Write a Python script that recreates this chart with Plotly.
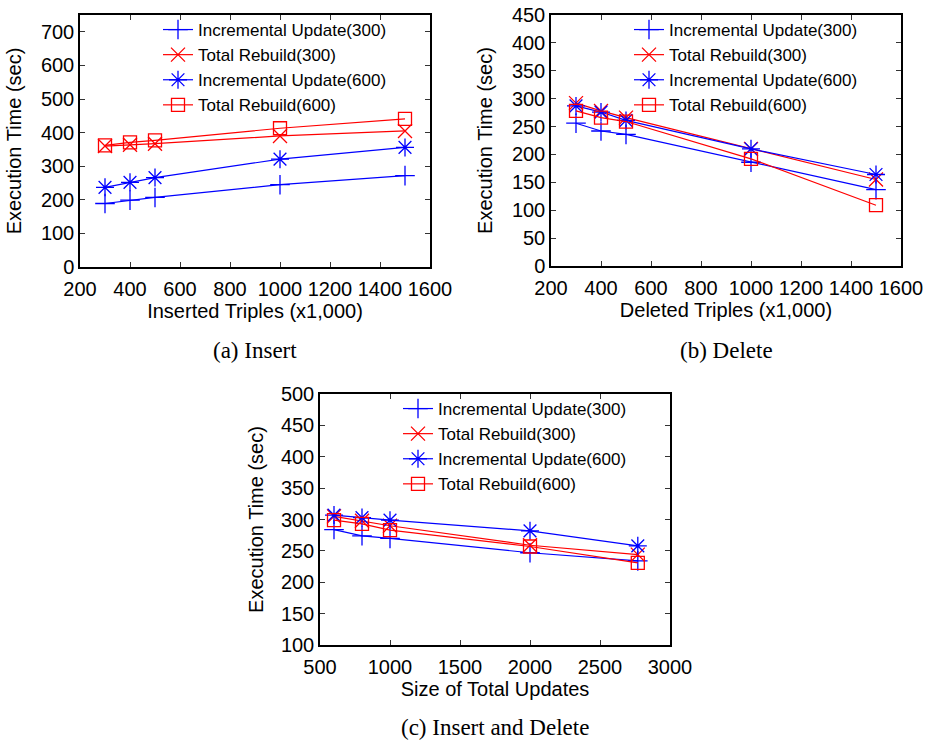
import plotly.graph_objects as go

# ---------------- data ----------------
series_names = ["Incremental Update(300)", "Total Rebuild(300)",
                "Incremental Update(600)", "Total Rebuild(600)"]

# (a) Insert
x_insert = [300, 400, 500, 1000, 1500]
ins_iu300 = [189, 199, 207, 245, 272]
ins_tr300 = [360, 364, 367, 390, 405]
ins_iu600 = [237, 252, 266, 321, 356]
ins_tr600 = [362, 371, 377, 413, 441]

# (b) Delete
x_delete = [300, 400, 500, 1000, 1500]
del_iu300 = [256, 242, 236, 186, 137]
del_tr300 = [292, 278, 266, 210, 155]
del_iu600 = [287, 276, 261, 210, 164]
del_tr600 = [278, 266, 259, 192, 109]

# (c) Insert and Delete
x_both = [600, 800, 1000, 2000, 2770]
both_iu300 = [284, 274, 270, 247, 234]
both_tr300 = [305, 298, 290, 259, 244]
both_iu600 = [307, 303, 299, 282, 258]
both_tr600 = [299, 293, 283, 257, 231]

captions = ["(a) Insert", "(b) Delete", "(c) Insert and Delete"]
x_titles = ["Inserted Triples (x1,000)", "Deleted Triples (x1,000)", "Size of Total Updates"]
y_title = "Execution Time (sec)"

# ---------------- styling ----------------
BLUE = "#0000ff"
RED = "#ff0000"
colors = [BLUE, RED, BLUE, RED]
symbols = ["cross-thin-open", "x-thin-open", "asterisk-open", "square-open"]
sizes = [14, 14, 15, 13]
SANS = "Liberation Sans, Arial, Helvetica, sans-serif"
SERIF = "Liberation Serif, Times New Roman, serif"

panels = [
    dict(x=x_insert, ys=[ins_iu300, ins_tr300, ins_iu600, ins_tr600],
         xd=[80/933, 430/933], yd=[(740-267)/740, (740-15)/740],
         xr=[200, 1600], xdt=200, yr=[0, 750], ydt=100, ystand=14),
    dict(x=x_delete, ys=[del_iu300, del_tr300, del_iu600, del_tr600],
         xd=[551/933, 901/933], yd=[(740-266)/740, (740-15)/740],
         xr=[200, 1600], xdt=200, yr=[0, 450], ydt=50, ystand=14),
    dict(x=x_both, ys=[both_iu300, both_tr300, both_iu600, both_tr600],
         xd=[320/933, 670/933], yd=[(740-645)/740, (740-394)/740],
         xr=[500, 3000], xdt=500, yr=[100, 500], ydt=50, ystand=12),
]

fig = go.Figure()
layout = dict(
    width=933, height=740,
    margin=dict(l=0, r=0, t=0, b=0),
    paper_bgcolor="white", plot_bgcolor="white",
    font=dict(family=SANS, size=20, color="black"),
    annotations=[],
)

cap_pos = [(255/933, 1-350/740), (726/933, 1-350/740), (495/933, 1-727/740)]

for i, p in enumerate(panels):
    n = "" if i == 0 else str(i + 1)
    leg = "legend" if i == 0 else "legend" + str(i + 1)
    for k in range(4):
        fig.add_trace(go.Scatter(
            x=p["x"], y=p["ys"][k], name=series_names[k],
            mode="lines+markers",
            line=dict(color=colors[k], width=1.2),
            marker=dict(symbol=symbols[k], size=sizes[k], color=colors[k],
                        line=dict(color=colors[k], width=1.3)),
            xaxis="x" + n, yaxis="y" + n, legend=leg,
        ))
    axis_common = dict(showline=True, mirror="allticks", linecolor="black", linewidth=1.5,
                       ticks="inside", ticklen=5, tickwidth=1, tickcolor="#333",
                       showgrid=False, zeroline=False, automargin=False,
                       tickfont=dict(family=SANS, size=20, color="black"))
    layout["xaxis" + n] = dict(axis_common, domain=p["xd"], range=p["xr"], dtick=p["xdt"],
                               tick0=p["xr"][0], anchor="y" + n, ticklabelstandoff=3,
                               title=dict(text=x_titles[i], standoff=5,
                                          font=dict(family=SANS, size=20)))
    layout["yaxis" + n] = dict(axis_common, domain=p["yd"], range=p["yr"], dtick=p["ydt"],
                               tick0=p["yr"][0], anchor="x" + n,
                               title=dict(text=y_title, standoff=p["ystand"],
                                          font=dict(family=SANS, size=20)))
    layout[leg] = dict(x=p["xd"][1] - 38/933, xanchor="right",
                       y=p["yd"][1] + 3/740, yanchor="top",
                       bgcolor="rgba(0,0,0,0)", borderwidth=0,
                       font=dict(family=SANS, size=17, color="black"),
                       tracegroupgap=0)
    layout["annotations"].append(dict(
        text=captions[i], x=cap_pos[i][0], y=cap_pos[i][1], xref="paper", yref="paper",
        xanchor="center", yanchor="middle", showarrow=False,
        font=dict(family=SERIF, size=23, color="black")))

fig.update_layout(**layout)
fig.write_html("out.html")
